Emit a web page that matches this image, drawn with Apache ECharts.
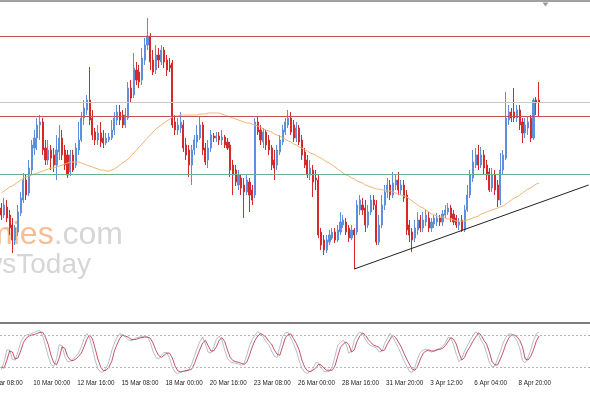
<!DOCTYPE html>
<html><head><meta charset="utf-8">
<script src="https://cdn.jsdelivr.net/npm/echarts/dist/echarts.min.js"></script>
<style>html,body{margin:0;padding:0;background:#fff;}#c{width:590px;height:393px;}</style>
</head><body><div id="c"></div>
<script>
// H4 bars: [open, close, low, high]
const bars = [
[1712,1705,1700,1717],[1705,1715,1702,1722],[1713,1702,1698,1720],[1705,1692,1685,1710],[1695,1680,1667,1702],
[1680,1692,1675,1695],[1688,1708,1684,1715],[1707,1722,1704,1728],[1720,1740,1717,1747],[1740,1725,1720,1745],
[1727,1752,1724,1760],[1750,1775,1745,1780],[1772,1782,1765,1790],[1782,1795,1770,1802],[1795,1798,1780,1805],
[1798,1770,1765,1802],[1772,1760,1755,1780],[1760,1770,1755,1780],[1770,1762,1750,1775],[1765,1755,1748,1772],
[1755,1770,1740,1785],[1768,1782,1760,1795],[1782,1765,1760,1790],[1770,1755,1750,1775],[1765,1745,1742,1770],
[1748,1765,1744,1770],[1765,1750,1748,1770],[1755,1772,1752,1777],[1770,1780,1765,1798],[1780,1802,1778,1808],
[1802,1812,1795,1820],[1810,1820,1805,1825],[1820,1800,1795,1853],[1802,1785,1780,1810],[1788,1780,1775,1792],
[1780,1787,1775,1795],[1787,1778,1773,1798],[1782,1777,1772,1790],[1777,1782,1775,1787],[1780,1783,1778,1787],
[1782,1790,1780,1800],[1790,1802,1785,1808],[1800,1808,1795,1815],[1808,1800,1795,1815],[1805,1795,1792,1810],
[1795,1805,1792,1812],[1802,1832,1800,1838],[1832,1822,1817,1840],[1825,1852,1822,1867],[1850,1840,1835,1858],
[1848,1838,1832,1855],[1840,1862,1835,1872],[1860,1875,1855,1882],[1875,1884,1870,1902],[1884,1858,1850,1887],
[1860,1848,1845,1870],[1850,1865,1846,1875],[1865,1860,1852,1872],[1858,1870,1855,1875],[1870,1858,1852,1873],
[1860,1850,1844,1865],[1855,1852,1848,1862],[1857,1795,1792,1860],[1798,1790,1785,1805],[1790,1795,1785,1802],
[1792,1798,1787,1808],[1795,1772,1768,1800],[1775,1765,1760,1782],[1770,1755,1743,1775],[1755,1770,1735,1775],
[1770,1780,1765,1785],[1778,1785,1772,1795],[1782,1795,1780,1803],[1795,1770,1765,1798],[1772,1758,1755,1777],
[1760,1772,1752,1780],[1772,1785,1768,1790],[1784,1782,1778,1787],[1782,1784,1778,1788],[1784,1780,1775,1788],
[1780,1783,1775,1790],[1783,1775,1772,1785],[1778,1772,1770,1782],[1775,1750,1743,1778],[1755,1745,1725,1760],
[1750,1738,1734,1755],[1735,1745,1730,1750],[1742,1732,1725,1745],[1735,1728,1702,1742],[1728,1740,1725,1745],
[1738,1725,1708,1742],[1730,1720,1715,1735],[1725,1798,1722,1802],[1798,1788,1785,1803],[1790,1780,1775,1795],
[1778,1788,1772,1792],[1788,1775,1770,1790],[1780,1770,1765,1785],[1772,1755,1750,1775],[1760,1752,1740,1770],
[1755,1770,1750,1775],[1768,1780,1765,1785],[1778,1790,1775,1795],[1788,1798,1785,1802],[1795,1802,1792,1810],
[1802,1788,1785,1808],[1795,1782,1778,1800],[1782,1792,1778,1798],[1792,1778,1775,1795],[1780,1765,1760,1785],
[1768,1755,1752,1772],[1760,1745,1742,1765],[1745,1752,1740,1760],[1750,1738,1723,1755],[1742,1740,1730,1750],
[1740,1685,1682,1745],[1688,1675,1670,1692],[1680,1670,1665,1685],[1670,1680,1667,1685],[1678,1685,1675,1690],
[1682,1688,1680,1692],[1688,1680,1677,1692],[1680,1690,1678,1695],[1688,1698,1685,1708],[1695,1700,1692,1705],
[1698,1688,1685,1702],[1692,1682,1678,1695],[1682,1690,1680,1695],[1690,1685,1651,1692],[1688,1715,1685,1720],
[1710,1720,1705,1725],[1715,1710,1705,1722],[1712,1695,1688,1720],[1695,1708,1692,1715],[1708,1720,1705,1725],
[1720,1715,1710,1725],[1715,1678,1675,1720],[1678,1695,1675,1705],[1695,1715,1692,1725],[1715,1728,1710,1735],
[1728,1735,1722,1742],[1735,1725,1720,1740],[1725,1737,1722,1748],[1735,1740,1730,1745],[1740,1730,1725,1748],
[1730,1735,1725,1740],[1735,1722,1718,1740],[1725,1690,1685,1730],[1695,1685,1678,1700],[1688,1680,1668,1692],
[1682,1692,1678,1700],[1690,1700,1685,1708],[1700,1692,1688,1705],[1692,1700,1688,1708],[1698,1705,1694,1710],
[1702,1692,1688,1708],[1692,1698,1688,1702],[1696,1702,1692,1705],[1698,1702,1694,1707],[1702,1698,1694,1705],
[1698,1706,1694,1710],[1705,1710,1702,1715],[1708,1712,1705,1717],[1712,1702,1698,1715],[1706,1698,1695,1710],
[1702,1695,1692,1705],[1695,1698,1690,1702],[1700,1690,1688,1705],[1690,1710,1688,1715],[1710,1725,1708,1735],
[1725,1745,1722,1750],[1742,1758,1738,1770],[1755,1765,1752,1772],[1765,1755,1750,1775],[1755,1765,1752,1773],
[1765,1752,1745,1770],[1755,1745,1740,1760],[1748,1730,1728,1752],[1732,1745,1728,1752],[1745,1730,1725,1750],
[1735,1720,1713,1740],[1720,1750,1715,1767],[1750,1765,1745,1770],[1762,1802,1760,1828],[1800,1808,1795,1815],
[1808,1802,1798,1812],[1808,1802,1798,1832],[1802,1810,1798,1815],[1810,1795,1790,1815],[1798,1787,1777,1802],
[1787,1795,1782,1802],[1792,1798,1785,1803],[1802,1782,1778,1805],[1782,1820,1780,1822],[1820,1817,1805,1823],
[1820,1818,1803,1838]
];
// Moving average, one per bar
const ma = [
1727,1729,1731,1733,1734,1736,1738,1740,1742,1743,1744,1745,1746,1747,1748,1749,1750,1751,1752,1752,
1753,1754,1755,1756,1757,1758,1758,1758,1758,1757,1756,1755,1754,1753,1752,1751,1750,1750,1749,1749,
1750,1751,1753,1755,1757,1759,1761,1764,1767,1770,1773,1776,1779,1782,1785,1788,1791,1793,1795,1797,
1799,1801,1803,1804,1804,1805,1805,1805,1805,1805,1805,1805,1806,1806,1806,1807,1807,1807,1807,1807,
1806,1805,1804,1803,1802,1801,1800,1799,1798,1797,1797,1796,1795,1794,1793,1791,1790,1789,1788,1786,
1785,1784,1782,1781,1779,1778,1776,1775,1773,1772,1770,1769,1767,1766,1765,1763,1762,1760,1758,1757,
1755,1753,1751,1749,1747,1745,1744,1742,1741,1739,1738,1737,1735,1734,1733,1732,1731,1731,1730,1730,
1729,1729,1728,1727,1726,1725,1724,1723,1721,1719,1717,1715,1713,1712,1710,1708,1706,1705,1704,1703,
1703,1702,1701,1701,1700,1699,1699,1699,1699,1700,1701,1702,1703,1704,1706,1707,1708,1709,1710,1711,
1712,1713,1714,1716,1718,1720,1722,1723,1725,1727,1729,1731,1732,1734,1736,1737
];
// Stochastic: signal (red) and main (grey)
const stochSignal = [
20,18,33,50,48,35,37,50,66,74,78,80,81,83,85,85,76,62,42,28,
24,37,58,55,40,33,32,35,40,46,58,72,80,73,55,35,20,13,14,20,
30,50,63,74,80,78,76,72,71,72,74,75,76,76,74,65,52,42,38,42,
46,46,37,22,13,11,12,13,14,16,26,40,53,65,70,60,50,50,58,70,
75,68,52,38,32,30,29,27,25,29,42,58,70,78,83,80,76,68,63,52,
44,42,58,75,81,82,73,64,52,33,20,13,11,14,18,25,24,18,14,14,
14,22,40,57,63,67,62,48,52,68,78,84,80,72,66,61,59,57,50,52,
63,72,80,75,67,58,46,35,25,16,14,22,35,46,50,52,50,50,52,53,
55,60,67,75,72,63,46,33,38,50,58,68,76,84,80,70,63,48,30,24,
24,35,48,63,74,80,80,77,70,58,35,33,40,52,68,78
];
const stochMain = [
15,30,52,52,34,33,48,66,76,80,81,83,85,88,88,78,60,40,25,21,
36,62,60,40,30,30,34,40,46,58,73,83,75,55,33,17,10,11,18,30,
50,65,76,83,80,76,71,69,72,75,76,77,78,76,66,50,38,35,42,47,
47,36,20,10,8,10,12,13,15,25,40,55,68,76,63,48,46,58,72,78,
70,52,36,30,28,27,26,23,27,42,60,72,80,86,82,76,67,62,50,40,
38,58,77,84,85,74,63,50,32,18,10,8,12,17,28,28,17,12,11,12,
21,40,60,66,70,63,46,50,70,80,86,82,72,64,60,58,56,48,50,64,
74,83,76,66,56,44,32,22,12,10,20,36,48,52,54,50,48,50,53,55,
58,65,76,74,62,44,30,36,50,60,70,78,86,82,70,62,46,28,20,22,
36,50,65,76,82,82,77,69,56,32,28,38,52,70,82,85
];
// time labels every 16 bars; the first one sits 5 bars before the first visible bar
const tickLabels = ["7 Mar 08:00","10 Mar 00:00","12 Mar 16:00","15 Mar 08:00","18 Mar 00:00","20 Mar 16:00","23 Mar 08:00","26 Mar 00:00","28 Mar 16:00","31 Mar 20:00","3 Apr 12:00","6 Apr 04:00","8 Apr 20:00"];
const firstTickBar = -5;
const levelsRed = [1884, 1804];
const levelGrey = 1818;
const levelGreen = 1746;
const trendFrom = [128, 1651];
const trendTo = [213, 1735];
const stochLevels = [80, 20];

const barsPerTick = 16, totalSlots = 214, slotW = 2.77;
const cats = [];
for (let s = 0; s < totalSlots; s++) cats.push(String(s));
const pad = (arr) => { const out = []; for (let s = 0; s < totalSlots; s++) out.push(s < arr.length ? arr[s] : '-'); return out; };
const tickIndex = (i) => { const d = i - firstTickBar; return d % barsPerTick === 0 ? d / barsPerTick : -1; };
const isTick = (i) => { const k = tickIndex(i); return k >= 0 && k < tickLabels.length; };

const chart = echarts.init(document.getElementById('c'), null, {renderer: 'canvas'});
const gridW = totalSlots * slotW;
const labelFont = {fontSize: 6.3, fontFamily: 'Liberation Sans', color: '#222'};
const option = {
  animation: false,
  backgroundColor: '#ffffff',
  grid: [
    {left: 0, width: gridW, top: 3, height: 317},
    {left: 0, width: gridW, top: 324.3, height: 53.4}
  ],
  xAxis: [
    {type: 'category', gridIndex: 0, data: cats, boundaryGap: true, axisLine: {show: false}, axisTick: {show: false}, axisLabel: {show: false}, splitLine: {show: false}},
    {type: 'category', gridIndex: 1, data: cats, boundaryGap: true, axisLine: {show: false},
      axisTick: {show: false},
      axisLabel: Object.assign({show: true, interval: (i) => isTick(i), formatter: (v, i) => isTick(i) ? tickLabels[tickIndex(i)] : '',
        align: 'left', padding: [0, 0, 0, 1.5], margin: 2.5}, labelFont),
      splitLine: {show: false}}
  ],
  yAxis: [
    {type: 'value', gridIndex: 0, min: 1600, max: 1917, show: false, splitLine: {show: false}},
    {type: 'value', gridIndex: 1, min: 0, max: 100, show: false, splitLine: {show: false}}
  ],
  series: [
    {type: 'candlestick', xAxisIndex: 0, yAxisIndex: 0, data: pad(bars), barWidth: 1.6,
      itemStyle: {color: '#5d8fdc', color0: '#d62a2a', borderColor: '#5d8fdc', borderColor0: '#d62a2a', borderWidth: 1},
      markLine: {silent: true, symbol: 'none', label: {show: false}, animation: false,
        data: [
          {yAxis: levelsRed[0], lineStyle: {color: '#c4505a', width: 1, type: 'solid'}},
          {yAxis: levelsRed[1], lineStyle: {color: '#c4505a', width: 1, type: 'solid'}},
          {yAxis: levelGrey, lineStyle: {color: '#c8c8c8', width: 1, type: 'solid'}},
          {yAxis: levelGreen, lineStyle: {color: '#6fb08c', width: 1, type: 'solid'}},
          [{coord: [trendFrom[0], trendFrom[1]], lineStyle: {color: '#222', width: 1, type: 'solid'}}, {coord: [trendTo[0], trendTo[1]]}]
        ]}
    },
    {type: 'line', xAxisIndex: 0, yAxisIndex: 0, data: pad(ma), showSymbol: false, symbol: 'none', smooth: false,
      lineStyle: {color: '#eeb676', width: 1}, z: 3},
    {type: 'line', xAxisIndex: 1, yAxisIndex: 1, data: pad(stochMain), showSymbol: false, symbol: 'none',
      lineStyle: {color: '#a2acc2', width: 0.8},
      markLine: {silent: true, symbol: 'none', label: {show: false},
        data: stochLevels.map(v => ({yAxis: v, lineStyle: {color: '#b4b4b4', width: 1, type: [2, 2]}}))}},
    {type: 'line', xAxisIndex: 1, yAxisIndex: 1, data: pad(stochSignal), showSymbol: false, symbol: 'none',
      lineStyle: {color: '#b42a3c', width: 0.8}}
  ],
  graphic: [
    {id: 'wm1', type: 'text', z: -10, silent: true, style: {x: 123, y: 251, text: '{o|Economies}{g|.com}', align: 'right', verticalAlign: 'bottom',
      rich: {o: {fill: '#f7bc94', font: '32px "Liberation Sans"'}, g: {fill: '#d6d6d6', font: '32px "Liberation Sans"'}}}},
    {id: 'wm2', type: 'text', z: -10, silent: true, style: {x: 91, y: 279, text: 'NewsToday', align: 'right', verticalAlign: 'bottom',
      fill: '#d6d6d6', font: '28px "Liberation Sans"'}},
    {id: 'topEdge', type: 'line', silent: true, shape: {x1: 0, y1: 1, x2: 590, y2: 1}, style: {stroke: '#a0a0a0', lineWidth: 2}},
    {id: 'sep', type: 'line', silent: true, shape: {x1: 0, y1: 323, x2: 590, y2: 323}, style: {stroke: '#7c7c7c', lineWidth: 2}},
    {id: 'shift', type: 'polygon', silent: true, shape: {points: [[542.5, 2.5], [548.5, 2.5], [545.5, 6.5]]}, style: {fill: '#9a9a9a'}}
  ]
};
chart.setOption(option);
// the first time label starts before the left edge of the plot
const x0 = chart.convertToPixel({xAxisIndex: 1}, 0) + firstTickBar * slotW + 1.5;
const y0 = chart.convertToPixel({yAxisIndex: 1}, 0) + 2.5;
const g = option.graphic.slice();
g.push({id: 'firstTick', type: 'text', silent: true, style: {x: x0, y: y0, text: tickLabels[0], align: 'left', verticalAlign: 'top',
  fill: labelFont.color, font: labelFont.fontSize + 'px "' + labelFont.fontFamily + '"'}});
chart.setOption({graphic: g});
</script></body></html>
